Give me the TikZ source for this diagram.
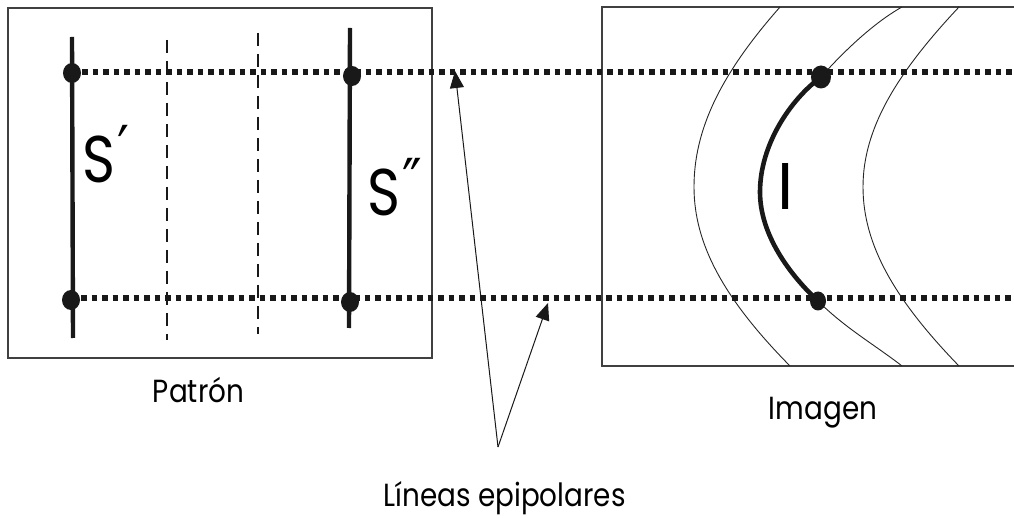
\documentclass[tikz,border=0pt]{standalone}
\usepackage{fontspec}
\setmainfont{Poppins}
\newfontfamily\primefont{DejaVu Sans}
\usetikzlibrary{arrows.meta,shapes.geometric}
\newcommand{\narrow}[1]{\scalebox{0.87}[1]{#1}}
\newcommand{\bignarrow}[1]{\scalebox{0.85}[1]{#1}}
\newcommand{\pr}[1]{\kern2pt\raisebox{12pt}{\primefont\fontsize{62}{64}\selectfont #1}}
\begin{document}
\begin{tikzpicture}[x=1pt,y=-1pt,
 frame/.style={draw=black!75, line width=1.2pt},
 solidbar/.style={line width=4.4pt, draw=black!90},
 guide/.style={line width=2.6pt, dash pattern=on 13pt off 8pt, draw=black!90},
 epi/.style={line width=5.2pt, dash pattern=on 5.5pt off 5pt, draw=black!90},
 dot/.style={ellipse, fill=black!90, minimum width=18pt, minimum height=20pt, inner sep=0pt},
 thincurve/.style={line width=0.9pt, draw=black!85},
 thickcurve/.style={line width=4.6pt, draw=black!90},
 pointer/.style={line width=1pt, draw=black!90, -{Triangle[length=17pt,width=14pt]}},
 lbl/.style={font=\fontsize{32}{36}\selectfont, inner sep=0pt, anchor=base},
 big/.style={font=\fontsize{66}{70}\selectfont, inner sep=0pt, anchor=base},
]
\useasboundingbox (0,0) rectangle (1014,518);

% frames
\node[frame, minimum width=424pt, minimum height=350pt, inner sep=0pt] (pbox) at (220,183) {};
\coordinate (rb1) at (1014,7);
\coordinate (rb2) at (602,7);
\coordinate (rb3) at (602,366);
\coordinate (rb4) at (1014,366);
\draw[frame] (rb1) -- (rb2) -- (rb3) -- (rb4);

% thin curves in image
\draw[thincurve] (780,7) .. controls (720,75) and (694,130) .. (694,187)
                 .. controls (694,245) and (725,300) .. (790,366);
\draw[thincurve] (959,7) .. controls (895,75) and (863,130) .. (863,187)
                 .. controls (863,245) and (895,300) .. (959,366);

% dashed guides in pattern
\coordinate (g1a) at (167,40);  \coordinate (g1b) at (167,340);
\coordinate (g2a) at (258,33);  \coordinate (g2b) at (258,334);
\draw[guide] (g1a) -- (g1b);
\draw[guide] (g2a) -- (g2b);

% solid stripes
\coordinate (s1a) at (72,37);  \coordinate (s1b) at (73,338);
\coordinate (s2a) at (350,28); \coordinate (s2b) at (349,328);
\draw[solidbar] (s1a) -- (s1b);
\draw[solidbar] (s2a) -- (s2b);

% dot positions
\coordinate (d1) at (72,73);
\coordinate (d2) at (71,300);
\coordinate (d3) at (352,76);
\coordinate (d4) at (350,302);
\coordinate (d5) at (821,77);
\coordinate (d6) at (818,301);

% epipolar lines
\coordinate (e1) at (1014,72);
\coordinate (e2) at (1014,298);
\draw[epi] (d1) ++(10,-1) -- (e1);
\draw[epi] (d2) ++(10,-2) -- (e2);

% middle curve: thin ends, thick middle
\draw[thincurve] (902,7) .. controls (875,22) and (845,50) .. (d5);
\draw[thickcurve] (d5) .. controls (790,100) and (760,145) .. (760,192)
                 .. controls (760,235) and (790,275) .. (d6);
\draw[thincurve] (d6) .. controls (845,328) and (875,345) .. (902,366);

% dots
\node[dot] (n1) at (d1) {};
\node[dot] (n2) at (d2) {};
\node[dot] (n3) at (d3) {};
\node[dot] (n4) at (d4) {};
\node[dot, minimum width=20pt, minimum height=23pt] (n5) at (d5) {};
\node[dot, minimum width=16pt, minimum height=19pt] (n6) at (d6) {};

% pointers
\coordinate (v) at (498,447);
\coordinate (t1) at (455,71);
\coordinate (t2) at (548,303);
\draw[pointer] (v) -- (t1);
\draw[pointer] (v) -- (t2);

% labels
\node[big] (sp) at (106,183) {\bignarrow{S\pr{′}}};
\node[big] (spp) at (395,216) {\bignarrow{S\pr{″}}};
\node[big] (ii) at (786,210) {I};
\node[lbl] (patron) at (198.5,402) {\narrow{Patrón}};
\node[lbl] (imagen) at (823,419) {\narrow{Imagen}};
\node[lbl] (lineas) at (504.5,506) {\narrow{Líneas epipolares}};
\end{tikzpicture}
\end{document}
